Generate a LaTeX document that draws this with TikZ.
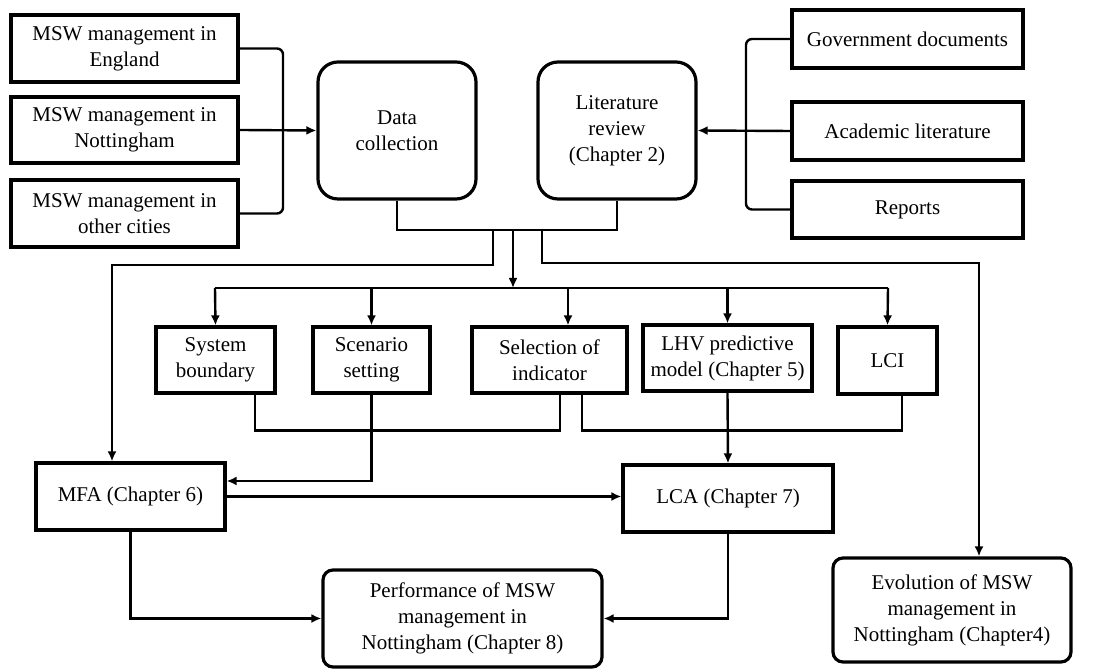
\documentclass[tikz,border=0pt]{standalone}
\usepackage{fontspec}
\setmainfont{Liberation Serif}
\usetikzlibrary{arrows.meta, calc}

\begin{document}
\begin{tikzpicture}[x=0.5pt, y=-0.5pt,
    box/.style={draw, line width=1.6pt, align=center, inner sep=0pt, font=\fontsize{10.5}{13}\selectfont},
    link/.style={line width=1.2pt},
    arr/.style={link, -{Latex[length=5pt, width=4.5pt]}}]
    \useasboundingbox (0,0) rectangle (1110,672);

    % sources on the left
    \node[box, minimum width=113.5pt, minimum height=33.5pt] (eng) at (124.5,48.5) {MSW management in\\England};
    \node[box, minimum width=113.5pt, minimum height=33pt] (nott) at (124.5,130) {MSW management in\\Nottingham};
    \node[box, minimum width=113.5pt, minimum height=33.5pt] (oth) at (124.5,213.5) {MSW management in\\other cities};

    \node[box, rounded corners=10pt, minimum width=79pt, minimum height=68.5pt] (data) at (397,130.5) {Data\\collection};
    \node[box, rounded corners=10pt, minimum width=79pt, minimum height=68.5pt] (lit) at (617,130.5) {Literature\\review\\(Chapter 2)};

    % sources on the right
    \node[box, minimum width=115.5pt, minimum height=29pt] (gov) at (907.5,39) {Government documents};
    \node[box, minimum width=115.5pt, minimum height=29pt] (acad) at (907.5,131) {Academic literature};
    \node[box, minimum width=115.5pt, minimum height=28.5pt] (rep) at (907.5,209.5) {Reports};

    % middle row
    \node[box, minimum width=59.5pt, minimum height=33pt] (sysb) at (215.5,360) {System\\boundary};
    \node[box, minimum width=58.5pt, minimum height=33pt] (scen) at (371.5,360) {Scenario\\setting};
    \node[box, minimum width=77.5pt, minimum height=33pt] (seli) at (549.5,360) {Selection of\\indicator};
    \node[box, minimum width=84.5pt, minimum height=33pt] (lhv) at (727.5,358) {LHV predictive\\model (Chapter 5)};
    \node[box, minimum width=49.5pt, minimum height=33.5pt] (lci) at (887.5,360.5) {LCI};

    \node[box, minimum width=94.5pt, minimum height=33.5pt] (mfa) at (130.5,496.5) {MFA (Chapter 6)};
    \node[box, minimum width=105pt, minimum height=33.5pt] (lca) at (728,498.5) {LCA (Chapter 7)};

    \node[box, rounded corners=5pt, minimum width=139.5pt, minimum height=48.5pt] (perf) at (462.5,618.5) {Performance of MSW\\management in\\Nottingham (Chapter 8)};
    \node[box, rounded corners=5pt, minimum width=119pt, minimum height=52pt] (evo) at (952,610) {Evolution of MSW\\management in\\Nottingham (Chapter4)};

    % brackets into data collection and literature review
    \coordinate (lj) at (283,130);
    \coordinate (rj) at (746,131);
    \draw[link, rounded corners=3pt] (eng.east) -| (lj) |- (oth.east);
    \draw[arr] (nott.east) -- (data.west);
    \draw[link, rounded corners=3pt] (gov.west) -| (rj) |- (rep.west);
    \draw[arr] (acad.west) -- (lit.east);

    % merged output
    \coordinate (mj) at (513,230);
    \coordinate (dl) at (493,230);
    \coordinate (dr) at (542,230);
    \coordinate (bl) at (112,265);
    \coordinate (br) at (979,263);
    \draw[link] (data.south) |- (mj) -| (lit.south);
    \draw[arr] (dl) |- (bl) -- (bl |- mfa.north);
    \draw[arr] (dr) |- (br) -- (br |- evo.north);

    % bus to the middle row
    \coordinate (busL) at (215,288);
    \coordinate (busR) at (888,288);
    \coordinate (seliIn) at ($(seli.north)+(18.5,0)$);
    \draw[arr] (mj) -- (mj |- busL);
    \draw[link] (busL) -- (busR);
    \draw[arr] (busL) -- (sysb.north);
    \draw[arr] (busL -| scen.north) -- (scen.north);
    \draw[arr] (busL -| seliIn) -- (seliIn);
    \draw[arr] (busL -| lhv.north) -- (lhv.north);
    \draw[arr] (busR) -- (lci.north);

    % middle row into MFA and LCA
    \coordinate (sb) at ($(sysb.south)+(39.5,0)$);
    \coordinate (sa) at ($(seli.south)+(10.5,0)$);
    \coordinate (sc) at ($(seli.south)+(32.5,0)$);
    \coordinate (lc) at ($(lci.south)+(14.5,0)$);
    \draw[link] (sb) -- ++(0,36) -| (sa);
    \draw[link] (sc) -- ++(0,36) -| (lc);
    \draw[arr] (scen.south) |- ($(mfa.east)+(0,-15.5)$);
    \draw[arr] (lhv.south) -- (lca.north);
    \draw[arr] (mfa.east) -- (mfa.east -| lca.west);

    % results
    \draw[arr] (mfa.south) |- (perf.west);
    \draw[arr] (lca.south) |- (perf.east);
\end{tikzpicture}
\end{document}
